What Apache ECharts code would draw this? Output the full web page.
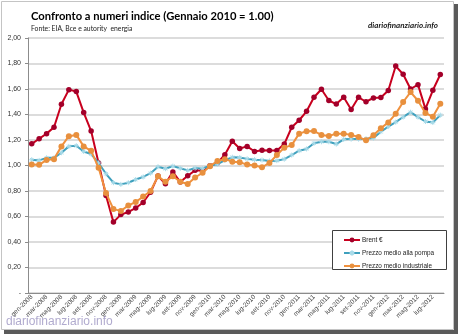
<!DOCTYPE html>
<html>
<head>
<meta charset="utf-8">
<script src="https://cdn.jsdelivr.net/npm/echarts@6/dist/echarts.min.js"></script>
<style>
html,body{margin:0;padding:0;background:#fff;}
#chart{width:460px;height:335px;}
</style>
</head>
<body>
<div id="chart"></div>
<script>
const categories = [
 'gen-2008','feb-2008','mar-2008','apr-2008','mag-2008','giu-2008','lug-2008','ago-2008','set-2008','ott-2008','nov-2008','dic-2008',
 'gen-2009','feb-2009','mar-2009','apr-2009','mag-2009','giu-2009','lug-2009','ago-2009','set-2009','ott-2009','nov-2009','dic-2009',
 'gen-2010','feb-2010','mar-2010','apr-2010','mag-2010','giu-2010','lug-2010','ago-2010','set-2010','ott-2010','nov-2010','dic-2010',
 'gen-2011','feb-2011','mar-2011','apr-2011','mag-2011','giu-2011','lug-2011','ago-2011','set-2011','ott-2011','nov-2011','dic-2011',
 'gen-2012','feb-2012','mar-2012','apr-2012','mag-2012','giu-2012','lug-2012','ago-2012'
];
const brent = [
 1.17,1.21,1.25,1.30,1.48,1.595,1.58,1.415,1.27,1.02,0.765,0.556,
 0.615,0.635,0.667,0.71,0.79,0.918,0.856,0.95,0.87,0.92,0.962,0.958,
 0.998,1.02,1.085,1.19,1.133,1.15,1.11,1.12,1.118,1.118,1.168,1.30,
 1.355,1.425,1.535,1.598,1.51,1.482,1.535,1.44,1.535,1.50,1.53,1.533,
 1.588,1.78,1.716,1.60,1.634,1.444,1.59,1.714
];
const pompa = [
 1.045,1.04,1.06,1.06,1.10,1.15,1.155,1.11,1.09,1.02,0.935,0.865,
 0.852,0.865,0.89,0.91,0.94,0.99,0.975,0.995,0.978,0.962,0.98,0.975,
 1.0,1.01,1.04,1.065,1.062,1.052,1.046,1.043,1.036,1.038,1.05,1.082,
 1.116,1.13,1.175,1.186,1.186,1.168,1.205,1.207,1.207,1.21,1.215,1.265,
 1.305,1.34,1.38,1.418,1.38,1.345,1.337,1.395
];
const industriale = [
 1.007,1.005,1.044,1.05,1.15,1.23,1.24,1.15,1.115,0.982,0.785,0.658,
 0.644,0.686,0.714,0.756,0.80,0.915,0.872,0.916,0.872,0.855,0.906,0.943,
 0.995,1.035,1.05,1.03,1.025,1.007,1.0,0.986,1.02,1.082,1.14,1.16,
 1.25,1.268,1.27,1.24,1.231,1.25,1.25,1.24,1.223,1.198,1.237,1.292,
 1.338,1.405,1.498,1.576,1.508,1.412,1.382,1.485
];
const seriesNames = ['Brent €','Prezzo medio alla pompa','Prezzo medio industriale'];
const titleText = 'Confronto a numeri indice (Gennaio 2010 = 1.00)';
const subText = 'Fonte: EIA, Bce e autority  energia';
const brandText = 'diariofinanziario.info';

const chart = echarts.init(document.getElementById('chart'), null, {renderer:'canvas'});
const starPath = 'path://M0,-5L0,5M-5,0L5,0M-3.5,-3.5L3.5,3.5M-3.5,3.5L3.5,-3.5';
const option = {
  animation:false,
  backgroundColor:'#fff',
  title:{
    text:titleText, subtext:subText, left:26, top:6, itemGap:3,
    textStyle:{fontFamily:'Lato', fontWeight:'bold', fontSize:11.2, color:'#000'},
    subtextStyle:{fontFamily:'Lato', fontSize:6.8, color:'#222'}
  },
  grid:{left:28, right:16, top:38, bottom:42},
  legend:{
    orient:'vertical', left:338, top:231, itemWidth:16, itemHeight:6, itemGap:5,
    data:seriesNames,
    textStyle:{fontFamily:'Liberation Sans', fontSize:6.4, color:'#222', lineHeight:8, padding:[0,0,0,-3]}
  },
  xAxis:{
    type:'category', data:categories, boundaryGap:true,
    axisLine:{lineStyle:{color:'#8c8c8c', width:1}},
    axisTick:{interval:1, length:3, lineStyle:{color:'#8c8c8c'}},
    axisLabel:{interval:1, rotate:45, fontSize:6.5, color:'#444', margin:3, fontFamily:'Liberation Sans'}
  },
  yAxis:{
    type:'value', min:0, max:2, interval:0.2,
    axisLine:{show:true, lineStyle:{color:'#8c8c8c'}},
    axisTick:{show:true, length:3, lineStyle:{color:'#8c8c8c'}},
    splitLine:{lineStyle:{color:'#d0d0d0', width:1.5}},
    axisLabel:{fontSize:7, color:'#333', margin:7, fontFamily:'Liberation Sans',
      formatter:function(v){ return v===0 ? '-' : v.toFixed(2).replace('.',','); }}
  },
  series:[
    {name:seriesNames[0], type:'line', data:brent, symbol:'circle', symbolSize:5.5, showAllSymbol:true,
     lineStyle:{color:'#c8001e', width:2}, itemStyle:{color:'#a3002a'}, z:2},
    {name:seriesNames[1], type:'line', data:pompa, symbol:starPath, symbolSize:5, showAllSymbol:true,
     lineStyle:{color:'#3fa0bd', width:2}, itemStyle:{color:'#4bacc6', borderColor:'#a9dbe9', borderWidth:1}, z:3},
    {name:seriesNames[2], type:'line', data:industriale, symbol:'circle', symbolSize:6, showAllSymbol:true,
     lineStyle:{color:'#f0913e', width:2}, itemStyle:{color:'#e8903e'}, z:4}
  ],
  graphic:[
    {type:'rect', shape:{x:1.5, y:1.5, width:452, height:328}, style:{fill:'none', stroke:'#c4c4c4', lineWidth:1}, z:1},
    {type:'rect', shape:{x:454, y:4, width:4, height:330}, style:{fill:'#5a5a5a'}, z:1},
    {type:'rect', shape:{x:4, y:330, width:454, height:4}, style:{fill:'#5a5a5a'}, z:1},
    {type:'rect', shape:{x:332.5, y:230.5, width:114, height:39}, style:{fill:'#fff', stroke:'#404040', lineWidth:1}, z:3},
    {type:'text', right:22, top:21, style:{text:brandText, font:'italic bold 8px Lato', fill:'#222'}, z:5},
    {type:'text', left:6, top:316, style:{text:brandText, font:'12px "Liberation Sans"', fill:'rgba(150,142,190,0.75)'}, z:100}
  ]
};
chart.setOption(option);
</script>
</body>
</html>
